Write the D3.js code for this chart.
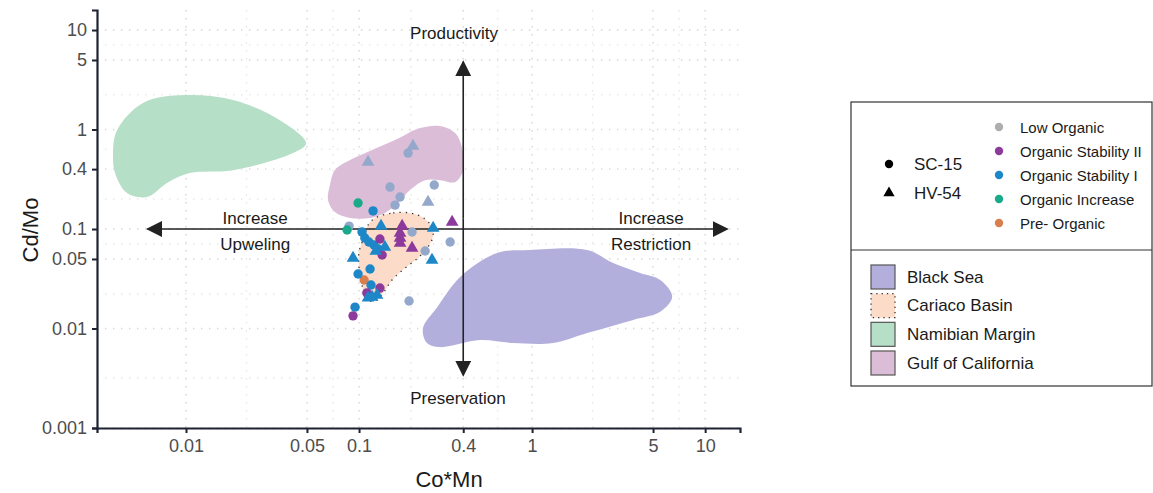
<!DOCTYPE html>
<html>
<head>
<meta charset="utf-8">
<script src="https://cdn.jsdelivr.net/npm/d3@7"></script>
<style>
  body { margin: 0; background: #fff; }
  text { font-family: Arial, "Liberation Sans", sans-serif; }
</style>
</head>
<body>
<script>
// axis ticks
var xTicks = [0.01, 0.05, 0.1, 0.4, 1, 5, 10];
var yTicks = [0.001, 0.01, 0.05, 0.1, 0.4, 1, 5, 10];
var xTickLabels = ["0.01", "0.05", "0.1", "0.4", "1", "5", "10"];
var yTickLabels = ["0.001", "0.01", "0.05", "0.1", "0.4", "1", "5", "10"];

// stages
var groups = ["Low Organic", "Organic Stability II", "Organic Stability I", "Organic Increase", "Pre- Organic"];
var groupColors = ["#93a8ca", "#8c3a9b", "#1d87c8", "#1aa98b", "#d97e4e"];
var legendColors = ["#adadad", "#8c3a9b", "#1d87c8", "#1aa98b", "#d97e4e"];

// [Co*Mn, Cd/Mo, stage index]
var sc15 = [
  [0.192, 0.58, 0], [0.151, 0.264, 0], [0.272, 0.277, 0], [0.1726, 0.21, 0], [0.1615, 0.174, 0],
  [0.0876, 0.107, 0], [0.2024, 0.0933, 0], [0.336, 0.074, 0], [0.241, 0.0601, 0], [0.1945, 0.0189, 0],
  [0.0987, 0.1825, 3], [0.0853, 0.0977, 3],
  [0.107, 0.0307, 4],
  [0.1205, 0.152, 2], [0.104, 0.0933, 2], [0.108, 0.0813, 2], [0.114, 0.074, 2], [0.122, 0.069, 2],
  [0.129, 0.063, 2], [0.1158, 0.0396, 2], [0.0987, 0.0353, 2], [0.1173, 0.0274, 2], [0.0948, 0.0164, 2],
  [0.132, 0.0793, 1], [0.136, 0.0548, 1], [0.132, 0.0255, 1], [0.111, 0.0228, 1], [0.0923, 0.0134, 1]
];
var hv54 = [
  [0.205, 0.682, 0], [0.1127, 0.471, 0], [0.2505, 0.187, 0],
  [0.134, 0.107, 2], [0.268, 0.1023, 2], [0.141, 0.0659, 2], [0.125, 0.06, 2], [0.0923, 0.0511, 2],
  [0.264, 0.0488, 2], [0.1127, 0.0203, 2], [0.127, 0.0217, 2], [0.119, 0.0207, 2],
  [0.1774, 0.107, 1], [0.1726, 0.0912, 1], [0.1726, 0.0813, 1], [0.1726, 0.0723, 1],
  [0.2024, 0.0644, 1], [0.345, 0.1175, 1]
];

// reference fields [Co*Mn, Cd/Mo]
var blackSea = [[0.234, 0.0101], [0.283, 0.0164], [0.384, 0.033], [0.628, 0.0574], [0.97, 0.0615],
  [2.08, 0.0615], [2.94, 0.0455], [4.21, 0.0361], [5.5, 0.0307], [6.45, 0.0208], [5.5, 0.0147],
  [3.84, 0.0122], [2.08, 0.009], [1.32, 0.00714], [0.776, 0.00714], [0.5, 0.00766], [0.294, 0.0065], [0.247, 0.00714]];
var gulf = [[0.0679, 0.277], [0.0726, 0.392], [0.0887, 0.493], [0.119, 0.622], [0.1615, 0.783],
  [0.2255, 1.035], [0.294, 1.084], [0.359, 0.922], [0.394, 0.652], [0.40, 0.392], [0.359, 0.296],
  [0.294, 0.31], [0.241, 0.31], [0.197, 0.247], [0.168, 0.1825], [0.141, 0.145], [0.1158, 0.129],
  [0.0887, 0.129], [0.0726, 0.148], [0.0662, 0.195]];
var namibian = [[0.004, 0.99], [0.00564, 1.85], [0.00987, 2.22], [0.0187, 1.98], [0.0349, 1.24],
  [0.0494, 0.73], [0.0415, 0.58], [0.0187, 0.39], [0.0105, 0.365], [0.00776, 0.29], [0.00596, 0.21],
  [0.00456, 0.23], [0.00389, 0.365], [0.00379, 0.58]];
var cariaco = [[0.1237, 0.129], [0.1574, 0.145], [0.197, 0.145], [0.231, 0.132], [0.257, 0.112],
  [0.268, 0.0871], [0.2505, 0.0659], [0.219, 0.0511], [0.1846, 0.0406], [0.155, 0.0307], [0.138, 0.0228],
  [0.1237, 0.0189], [0.1096, 0.0198], [0.104, 0.0274], [0.1, 0.0406], [0.1, 0.0587], [0.107, 0.0832], [0.1127, 0.1096]];

var regionNames = ["Black Sea", "Cariaco Basin", "Namibian Margin", "Gulf of California"];
var regionColors = ["#b3afdc", "#fcdcc8", "#b6dfc7", "#dcbdd8"];

var arrowH = [[0.006, 0.1], [13.4, 0.1]];
var arrowV = [[0.4, 4.8], [0.4, 0.0034]];
var notes = [
  ["Productivity", 0.354, 9.3], ["Preservation", 0.373, 0.002],
  ["Increase", 0.0251, 0.129], ["Upweling", 0.0251, 0.0706],
  ["Increase", 4.87, 0.129], ["Restriction", 4.87, 0.0706]
];

var W = 1153, H = 493;
var svg = d3.select("body").append("svg").attr("width", W).attr("height", H);

var x = d3.scaleLog().domain([0.00306, 15.9]).range([97, 740]);
var y = d3.scaleLog().domain([0.001, 15.9]).range([428, 10]);

// grid: major at ticks, minor at log midpoints
var xMinor = [], yMinor = [];
for (var i = 1; i < xTicks.length; i++) xMinor.push(Math.sqrt(xTicks[i - 1] * xTicks[i]));
for (var i = 1; i < yTicks.length; i++) yMinor.push(Math.sqrt(yTicks[i - 1] * yTicks[i]));

var grid = svg.append("g").attr("fill", "none");
grid.selectAll(".vx").data(xTicks.concat(xMinor)).enter().append("line")
  .attr("x1", function(d) { return x(d); }).attr("x2", function(d) { return x(d); })
  .attr("y1", 10).attr("y2", 428)
  .attr("stroke", function(d, i) { return i < xTicks.length ? "#d6d6d6" : "#e6e6e6"; })
  .attr("stroke-width", 1.4).attr("stroke-dasharray", "1.4,6.6");
grid.selectAll(".hy").data(yTicks.concat(yMinor)).enter().append("line")
  .attr("y1", function(d) { return y(d); }).attr("y2", function(d) { return y(d); })
  .attr("x1", 97).attr("x2", 740)
  .attr("stroke", function(d, i) { return i < yTicks.length ? "#d6d6d6" : "#e6e6e6"; })
  .attr("stroke-width", 1.4).attr("stroke-dasharray", "1.4,6.6");

// regions
var area = d3.line()
  .x(function(d) { return x(d[0]); })
  .y(function(d) { return y(d[1]); })
  .curve(d3.curveCatmullRomClosed.alpha(0.5));
var fields = [blackSea, cariaco, namibian, gulf];
var order = [0, 3, 2, 1];
order.forEach(function(k) {
  var p = svg.append("path").datum(fields[k]).attr("d", area).attr("fill", regionColors[k]);
  if (k == 1) p.attr("stroke", "#333").attr("stroke-width", 1.3).attr("stroke-dasharray", "1.3,5");
});

// arrows
svg.append("defs").append("marker").attr("id", "head")
  .attr("viewBox", "0 0 10 10").attr("refX", 9).attr("refY", 5)
  .attr("markerWidth", 16).attr("markerHeight", 16).attr("markerUnits", "userSpaceOnUse")
  .attr("orient", "auto")
  .append("path").attr("d", "M0,0L10,5L0,10Z").attr("fill", "#222");
var ln = d3.line().x(function(d) { return x(d[0]); }).y(function(d) { return y(d[1]); });
[arrowH, arrowV].forEach(function(a) {
  // draw from middle outwards so both ends get a head
  var mid = [Math.sqrt(a[0][0] * a[1][0]), Math.sqrt(a[0][1] * a[1][1])];
  svg.append("path").attr("d", ln([mid, a[0]])).attr("stroke", "#222").attr("stroke-width", 1.6)
    .attr("fill", "none").attr("marker-end", "url(#head)");
  svg.append("path").attr("d", ln([mid, a[1]])).attr("stroke", "#222").attr("stroke-width", 1.6)
    .attr("fill", "none").attr("marker-end", "url(#head)");
});

svg.selectAll(".note").data(notes).enter().append("text")
  .attr("x", function(d) { return x(d[1]); }).attr("y", function(d) { return y(d[2]); })
  .attr("text-anchor", "middle").attr("dominant-baseline", "central")
  .attr("font-size", 17).attr("fill", "#1a1a1a").text(function(d) { return d[0]; });

// points
svg.selectAll(".sc").data(sc15).enter().append("circle")
  .attr("cx", function(d) { return x(d[0]); }).attr("cy", function(d) { return y(d[1]); })
  .attr("r", 4.7).attr("fill", function(d) { return groupColors[d[2]]; });
var tri = d3.symbol().type(d3.symbolTriangle).size(70);
svg.selectAll(".hv").data(hv54).enter().append("path")
  .attr("d", tri)
  .attr("transform", function(d) { return "translate(" + x(d[0]) + "," + y(d[1]) + ")"; })
  .attr("fill", function(d) { return groupColors[d[2]]; });

// axes
var ax = svg.append("g").attr("transform", "translate(0,428)")
  .call(d3.axisBottom(x).tickValues(xTicks).tickFormat(function(d, i) { return xTickLabels[i]; }).tickSizeOuter(0).tickSize(5).tickPadding(6));
var ay = svg.append("g").attr("transform", "translate(97,0)")
  .call(d3.axisLeft(y).tickValues(yTicks).tickFormat(function(d, i) { return yTickLabels[i]; }).tickSizeOuter(0).tickSize(5).tickPadding(5));
[ax, ay].forEach(function(a) {
  a.select(".domain").attr("stroke", "#1e2233").attr("stroke-width", 2.2);
  a.selectAll(".tick line").attr("stroke", "#1e2233").attr("stroke-width", 2);
  a.selectAll(".tick text").attr("font-size", 18).attr("fill", "#4d4d4d").style("font-family", "Arial, 'Liberation Sans', sans-serif");
});

svg.append("text").attr("x", 449).attr("y", 479).attr("text-anchor", "middle")
  .attr("dominant-baseline", "central").attr("font-size", 22).attr("fill", "#1a1a1a").text("Co*Mn");
svg.append("text").attr("transform", "translate(30,230) rotate(-90)").attr("text-anchor", "middle")
  .attr("dominant-baseline", "central").attr("font-size", 22).attr("fill", "#1a1a1a").text("Cd/Mo");

// legend
var lg = svg.append("g");
lg.append("rect").attr("x", 851).attr("y", 102).attr("width", 301).attr("height", 284)
  .attr("fill", "#fff").attr("stroke", "#333").attr("stroke-width", 1.2);
lg.append("line").attr("x1", 851).attr("x2", 1152).attr("y1", 250).attr("y2", 250)
  .attr("stroke", "#333").attr("stroke-width", 1.2);

lg.append("circle").attr("cx", 889).attr("cy", 164).attr("r", 4.2).attr("fill", "#000");
lg.append("path").attr("d", d3.symbol().type(d3.symbolTriangle).size(55))
  .attr("transform", "translate(889,193)").attr("fill", "#000");
lg.append("text").attr("x", 914).attr("y", 164).attr("dominant-baseline", "central")
  .attr("font-size", 17).attr("fill", "#1a1a1a").text("SC-15");
lg.append("text").attr("x", 914).attr("y", 193).attr("dominant-baseline", "central")
  .attr("font-size", 17).attr("fill", "#1a1a1a").text("HV-54");

var gy = d3.scalePoint().domain(groups).range([127, 223]);
lg.selectAll(".gd").data(groups).enter().append("circle")
  .attr("cx", 999).attr("cy", function(d) { return gy(d); }).attr("r", 4.2)
  .attr("fill", function(d, i) { return legendColors[i]; });
lg.selectAll(".gt").data(groups).enter().append("text")
  .attr("x", 1020).attr("y", function(d) { return gy(d); }).attr("dominant-baseline", "central")
  .attr("font-size", 15).attr("fill", "#1a1a1a").text(function(d) { return d; });

var ry = d3.scalePoint().domain(regionNames).range([277, 363]);
regionNames.forEach(function(n, i) {
  var r = lg.append("rect").attr("x", 871).attr("y", ry(n) - 12).attr("width", 24).attr("height", 24)
    .attr("fill", regionColors[i]);
  if (i == 1) r.attr("stroke", "#333").attr("stroke-width", 1.3).attr("stroke-dasharray", "1.3,4");
  else r.attr("stroke", "#555").attr("stroke-width", 1.2);
  lg.append("text").attr("x", 907).attr("y", ry(n)).attr("dominant-baseline", "central")
    .attr("font-size", 17).attr("fill", "#1a1a1a").text(n);
});
</script>
</body>
</html>
